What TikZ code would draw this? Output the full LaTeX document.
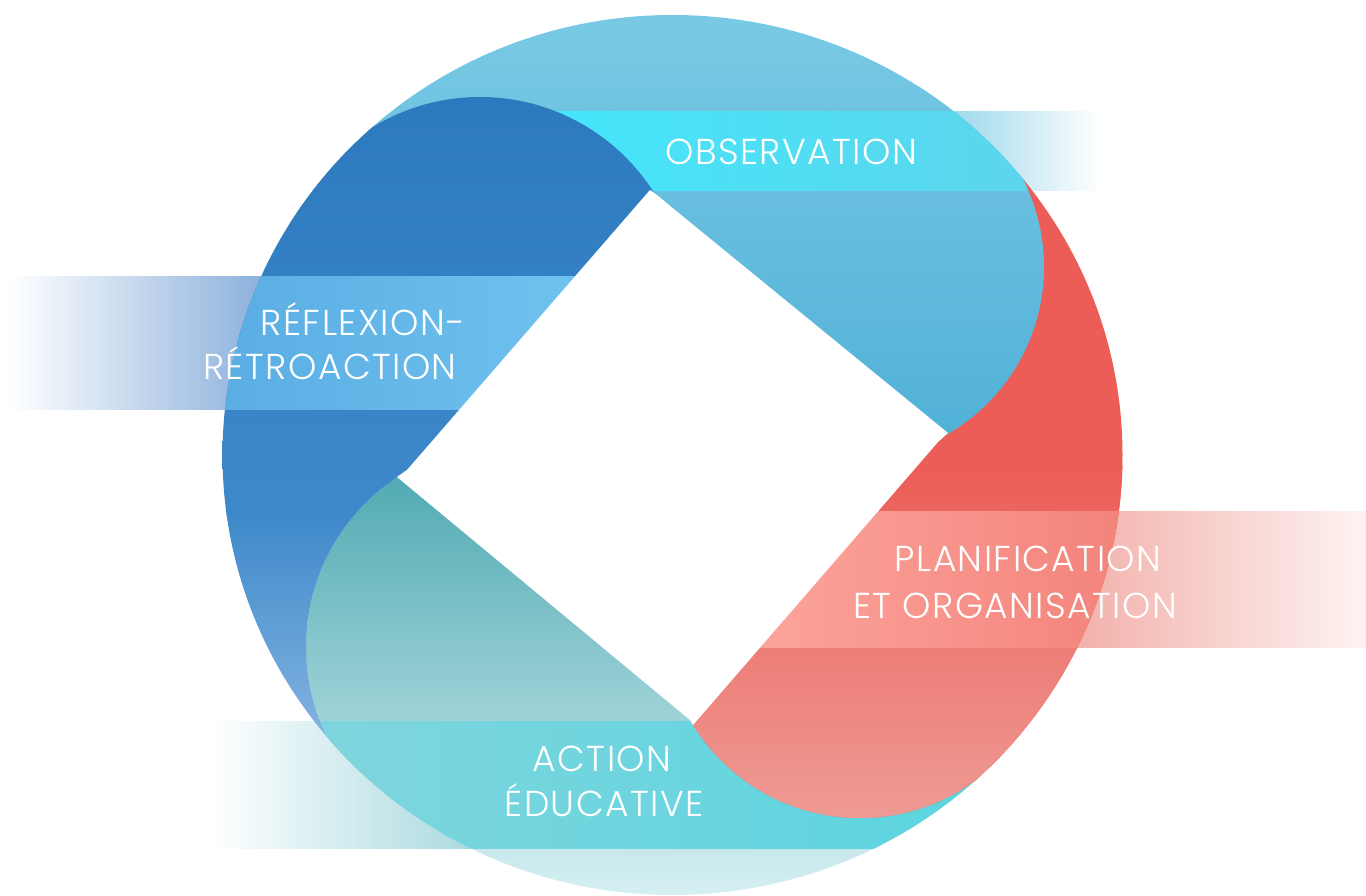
\documentclass[tikz,border=0pt]{standalone}
\usepackage{fontspec}
\newfontfamily\labfont{Poppins Light}[LetterSpace=4]
\definecolor{cTband}{HTML}{A8D9DF}
\definecolor{cBband}{HTML}{7FA8D8}
\definecolor{cOband}{HTML}{8FD3E8}
\definecolor{cRband}{HTML}{F2ABA5}
\definecolor{cRbandEnd}{HTML}{FDF3F2}
\definecolor{tealA}{HTML}{42A2AB}
\definecolor{tealB}{HTML}{6BBBC2}
\definecolor{tealC}{HTML}{D6F0F3}
\definecolor{tstripeA}{HTML}{80D5DE}
\definecolor{tstripeB}{HTML}{5CD6E0}
\definecolor{tstripeC}{HTML}{5BD5DF}
\definecolor{redA}{HTML}{EB5D56}
\definecolor{redC}{HTML}{EF9C96}
\definecolor{rstripeA}{HTML}{FCA59C}
\definecolor{rstripeB}{HTML}{F99990}
\definecolor{rstripeC}{HTML}{F3837B}
\definecolor{obsA}{HTML}{7ACAE5}
\definecolor{obsB}{HTML}{74C5E2}
\definecolor{obsC}{HTML}{4FAFD6}
\definecolor{ostripeA}{HTML}{44E6FB}
\definecolor{ostripeB}{HTML}{48E3F8}
\definecolor{ostripeC}{HTML}{5DD5EB}
\definecolor{blueA}{HTML}{2D79BF}
\definecolor{blueB}{HTML}{3E89CA}
\definecolor{blueC}{HTML}{86B5E2}
\definecolor{bstripeA}{HTML}{5AADE3}
\definecolor{bstripeB}{HTML}{7BCBF5}
\definecolor{bstripeC}{HTML}{70C2EF}
\newcommand\twopart[3]{%
  \begin{scope}\clip\Eshape; \clip #1; #3\end{scope}%
  \begin{scope}\clip\Eshape; \clip #2; #3\end{scope}}
\newcommand\bluepart[1]{%
  \begin{scope}[even odd rule]\clip\Eshape; \clip (0,0) rectangle (1366,896) \St; \clip\Sb; #1\end{scope}%
  \begin{scope}[even odd rule]\clip\Eshape; \clip (0,0) rectangle (1366,896) \St; \clip\Wb; #1\end{scope}}
\begin{document}
\begin{tikzpicture}[x=0.02cm,y=0.02cm,
  lab/.style={text=white, font=\labfont\fontsize{20.5}{24}\selectfont, anchor=base, inner sep=0pt}]
\def\u{0.02cm}
\useasboundingbox (0,0) rectangle (1366,896);
\def\Eshape{(672.5,441) ellipse[x radius=450*\u, y radius=440*\u]}
\def\Sb{(480,593) circle[radius=206*\u]}
\def\So{(851,629) circle[radius=193*\u]}
\def\Sr{(860,274) circle[radius=196*\u]}
\def\St{(510,249) circle[radius=204*\u]}
\def\Wb{(345,751) -- (407,426) -- (510,249) -- (330,156) -- (100,156) -- (100,751) -- cycle}
\def\Po{(653,704) -- (700,666) -- (851,629) -- (1020,721) -- (1020,900) -- (200,900) -- (200,696) -- cycle}
\def\Wr{(938,454) -- (851,629) -- (1020,721) -- (1200,721) -- (1200,126) -- (995,126) -- (860,274) -- cycle}
\def\Wt{(397,419) -- (690,176) -- (860,274) -- (995,126) -- (1100,126) -- (1100,-10) -- (330,-10) -- (330,156) -- (510,249) -- cycle}
% outside fading bands
\shade[left color=white, right color=cTband] (210,47) rectangle (480,174);
\shade[left color=white, right color=cBband] (10,486) rectangle (290,619);
\shade[left color=cOband, right color=white] (930,705) rectangle (1100,784);
\shade[left color=cRband, right color=cRbandEnd] (1050,248) rectangle (1366,384);
% teal petal
\twopart{\St}{\Wt}{\shade[top color=tealA, middle color=tealB, bottom color=tealC] (290,0) rectangle (1110,470);}
\twopart{\St}{\Wt}{\shade[left color=tstripeA, middle color=tstripeB, right color=tstripeC] (300,47) rectangle (980,174);}
% red petal
\twopart{\Sr}{\Wr}{\fill[redA] (660,60) rectangle (1140,740);}
\twopart{\Sr}{\Wr}{\shade[top color=redA, middle color=redA, bottom color=redC] (660,70) rectangle (1140,430);}
\twopart{\Sr}{\Wr}{\shade[left color=rstripeA, middle color=rstripeB, right color=rstripeC] (750,248) rectangle (1130,384);}
% observation petal
\twopart{\So}{\Po}{\shade[top color=obsA, middle color=obsB, bottom color=obsC] (330,430) rectangle (1050,890);}
\twopart{\So}{\Po}{\shade[left color=ostripeA, middle color=ostripeB, right color=ostripeC] (540,705) rectangle (1040,784);}
% blue petal (under teal circle)
\bluepart{\shade[top color=blueA, bottom color=blueB] (200,380) rectangle (700,805);}
\bluepart{\shade[top color=blueB, bottom color=blueC] (200,150) rectangle (700,381);}
\bluepart{\shade[left color=bstripeA, middle color=bstripeB, right color=bstripeC] (215,486) rectangle (590,619);}
% white centre
\fill[white] (650,706) -- (653,704) -- (948,463) -- (938,454) -- (693,171) -- (690,176) -- (397,419) -- (407,426) -- cycle;
% labels
\node[lab] (obs) at (791,731) {OBSERVATION};
\node[lab] (ref1) at (363,560) {RÉFLEXION-};
\node[lab] (ref2) at (330,516) {RÉTROACTION};
\node[lab] (pla1) at (1028,324) {PLANIFICATION};
\node[lab] (pla2) at (1015,277) {ET ORGANISATION};
\node[lab] (act1) at (602,124) {ACTION};
\node[lab] (act2) at (604,79) {ÉDUCATIVE};
\end{tikzpicture}
\end{document}
